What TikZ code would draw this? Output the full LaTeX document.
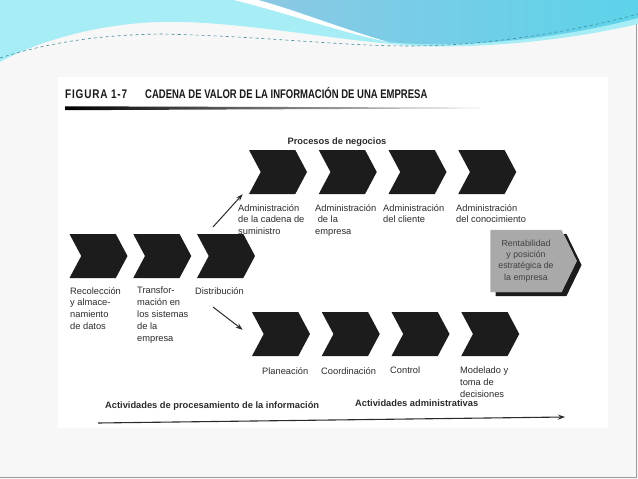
\documentclass[tikz,border=0pt]{standalone}
\usepackage{fontspec}
\setmainfont{Liberation Sans}
\usepackage{graphicx}
\usetikzlibrary{
  arrows.meta,
  shapes.symbols,
  positioning,
  shadows
}
\definecolor{vcInk}{HTML}{1C1C1C}
\definecolor{vcText}{HTML}{2B2B2B}
\definecolor{vcSlide}{HTML}{F7F7F7}
\definecolor{vcFrame}{HTML}{9A9A9A}
\definecolor{vcCyan}{HTML}{A6EDF5}
\definecolor{vcBlue}{HTML}{8CC8E4}
\definecolor{vcBright}{HTML}{5CD3EA}
\definecolor{vcDash}{HTML}{3E8C9C}
\definecolor{vcGray}{HTML}{A9A9A9}
\tikzset{
  vcchev/.style={
    signal, signal to=east, signal from=west, signal pointer angle=124,
    fill=vcInk, draw=none, minimum width=58pt, minimum height=44pt, inner sep=0pt
  },
  vclabel/.style={anchor=north west, align=left, inner sep=0pt,
    font=\fontsize{9.3}{11.8}\selectfont, text=vcText},
  vchead/.style={inner sep=0pt, font=\fontsize{9.3}{11}\selectfont\bfseries, text=vcText},
  vctitle/.style={anchor=base west, inner sep=0pt, font=\fontsize{12.5}{14}\selectfont\bfseries, text=black!90},
  vcprofit/.style={
    signal, signal to=east, signal pointer angle=128,
    fill=vcGray, draw=black!25, minimum width=86pt, minimum height=62pt,
    align=center, font=\fontsize{8.8}{11.4}\selectfont, text=black!75, inner sep=1pt,
    drop shadow={shadow xshift=5pt, shadow yshift=-4pt, fill=vcInk, opacity=1}
  },
  vcflow/.style={-{Stealth[length=7pt, width=5pt]}, line width=1pt, vcText}
}

\begin{document}
\begin{tikzpicture}[x=1pt, y=-1pt, node distance=23pt]
  \useasboundingbox (0,0) rectangle (638,479);
  % slide and top waves
  \fill[vcSlide] (0,0) rectangle (638,479);
  \draw[vcFrame, line width=1.2pt] (0,477.5) -- (636.5,477.5) -- (636.5,0);
  \fill[vcCyan] (0,0) -- (638,0) -- (638,24) .. controls (560,42) and (480,48) .. (420,46)
    .. controls (340,42) and (240,20) .. (160,22) .. controls (90,24) and (30,45) .. (0,62) -- cycle;
  \shade[left color=vcBlue, right color=vcBright] (258,0) .. controls (300,12) and (345,30) .. (388,42)
    .. controls (470,50) and (570,36) .. (638,18) -- (638,0) -- cycle;
  \fill[white] (234,0) .. controls (290,14) and (340,32) .. (388,42)
    .. controls (340,28) and (295,10) .. (258,0) -- cycle;
  \draw[vcDash, dashed, line width=0.6pt] (0,58) .. controls (50,42) and (100,35) .. (160,34)
    .. controls (260,36) and (340,46) .. (410,46) .. controls (490,46) and (580,30) .. (638,14);
  % scanned page
  \fill[white] (58,77) rectangle (608,428);

  % title
  \node[vctitle] (fig) at (65,98) {\scalebox{0.8}[1]{\addfontfeature{LetterSpace=8}FIGURA 1-7}};
  \node[vctitle] (title) at (145,98) {\scalebox{0.76}[1]{CADENA DE VALOR DE LA INFORMACIÓN DE UNA EMPRESA}};
  \shade[left color=black, right color=black!10] (65,106.3) -- (480,107.6) -- (480,108.4) -- (65,110.2) -- cycle;

  % information processing
  \node[vcchev] (p1) at (98.5,256) {};
  \node[vcchev, right=17pt of p1] (p2) {};
  \node[vcchev, right=17pt of p2] (p3) {};
  \node[vclabel] (lp1) at (70,287) {Recolección\\y almace-\\namiento\\de datos};
  \node[vclabel] (lp2) at (137,287) {Transfor-\\mación en\\los sistemas\\de la\\empresa};
  \node[vclabel] (lp3) at (195,287) {Distribución};

  % business processes
  \node[vchead, anchor=base] (bp) at (337,144) {Procesos de negocios};
  \node[vcchev] (a1) at (278,172) {};
  \node[vcchev, right=of a1] (a2) {};
  \node[vcchev, right=of a2] (a3) {};
  \node[vcchev, right=of a3] (a4) {};
  \node[vclabel] (la1) at (238,204) {Administración\\de la cadena de\\suministro};
  \node[vclabel] (la2) at (315,204) {Administración\\\ de la\\empresa};
  \node[vclabel] (la3) at (383,204) {Administración\\del cliente};
  \node[vclabel] (la4) at (456,204) {Administración\\del conocimiento};

  % management activities
  \node[vcchev] (b1) at (281,334) {};
  \node[vcchev, right=of b1] (b2) {};
  \node[vcchev, right=of b2] (b3) {};
  \node[vcchev, right=of b3] (b4) {};
  \node[vclabel] (lb1) at (262,367) {Planeación};
  \node[vclabel] (lb2) at (321,367) {Coordinación};
  \node[vclabel] (lb3) at (390,367) {Control};
  \node[vclabel] (lb4) at (460,367) {Modelado y\\toma de\\decisiones};

  \node[vcprofit] (gain) at (526,261) {Rentabilidad\\y posición\\estratégica de\\la empresa};

  \coordinate (upfrom) at (213,227);
  \coordinate (downfrom) at (213,307);
  \draw[vcflow] (upfrom) -- ([xshift=-6pt]a1.south west);
  \draw[vcflow] (downfrom) -- ([xshift=-9pt, yshift=-18pt]b1.north west);

  % bottom axis
  \coordinate (axstart) at (98,423);
  \coordinate (axend) at (565,417);
  \draw[vcflow, line width=1.1pt] (axstart) -- (axend);
  \node[vchead, anchor=base west] (ax1) at (105,408) {Actividades de procesamiento de la información};
  \node[vchead, anchor=base west] (ax2) at (355,406) {Actividades administrativas};
\end{tikzpicture}
\end{document}
